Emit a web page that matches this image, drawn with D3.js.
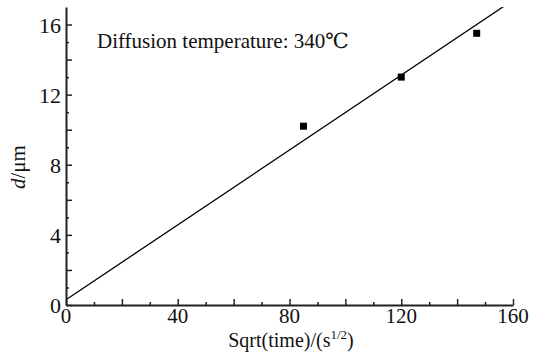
<!DOCTYPE html>
<html>
<head>
<meta charset="utf-8">
<script src="https://cdn.jsdelivr.net/npm/d3@7"></script>
<style>
  body { margin: 0; background: #fff; }
</style>
</head>
<body>
<div id="chart"></div>
<script>
const width = 533, height = 355;
const margin = {left: 66, right: 20, top: 7, bottom: 50};

// measured points
const sqrtTime = [85, 120, 147];
const depth = [10.2, 13.0, 15.5];
// fitted line ends
const fitX = [0, 160];
const fitY = [0.3, 0.3 + 0.1068 * 160];

const xTicks = [0, 40, 80, 120, 160];
const yTicks = [0, 4, 8, 12, 16];

let svg = d3.select("#chart").append("svg")
    .attr("width", width)
    .attr("height", height)
    .style("font-family", "'Liberation Serif', 'Times New Roman', Times, 'DejaVu Serif', serif");

let x = d3.scaleLinear().domain([0, 160]).range([margin.left, 513]);
let y = d3.scaleLinear().domain([0, 17]).range([305, margin.top]);

let plot = svg.append("g");

// clip so the fit line stops at the top of the frame
svg.append("clipPath").attr("id", "clip")
  .append("rect")
    .attr("x", x(0)).attr("y", y(17))
    .attr("width", x(160) - x(0)).attr("height", y(0) - y(17));

plot.append("line")
    .attr("clip-path", "url(#clip)")
    .attr("x1", x(fitX[0])).attr("y1", y(fitY[0]))
    .attr("x2", x(fitX[1])).attr("y2", y(fitY[1]))
    .attr("stroke", "#000")
    .attr("stroke-width", 1.3);

plot.selectAll("rect.pt")
  .data(sqrtTime)
  .enter().append("rect")
    .attr("class", "pt")
    .attr("x", (d) => x(d) - 3.5)
    .attr("y", (d, i) => y(depth[i]) - 3.5)
    .attr("width", 7)
    .attr("height", 7)
    .attr("fill", "#000");

// axes
let xAxis = d3.axisBottom(x)
    .tickValues(d3.range(0, 161, 10))
    .tickSize(0)
    .tickFormat("");
let gx = svg.append("g").attr("transform", `translate(0,${y(0)})`).call(xAxis);
gx.select(".domain").attr("stroke", "#222").attr("stroke-width", 2);
gx.selectAll(".tick line")
    .attr("y2", (d) => d % 20 === 0 ? -6 : -3)
    .attr("stroke", "#222").attr("stroke-width", 1.5);

let yAxis = d3.axisLeft(y)
    .tickValues(d3.range(0, 17, 1))
    .tickSize(0)
    .tickFormat("");
let gy = svg.append("g").attr("transform", `translate(${x(0)},0)`).call(yAxis);
gy.select(".domain").attr("stroke", "#222").attr("stroke-width", 2);
gy.selectAll(".tick line")
    .attr("x2", (d) => d % 2 === 0 ? 6 : 3)
    .attr("stroke", "#222").attr("stroke-width", 1.5);

// tick labels
svg.selectAll("text.xl")
  .data(xTicks)
  .enter().append("text")
    .attr("class", "xl")
    .attr("x", (d) => x(d))
    .attr("y", 323)
    .attr("text-anchor", "middle")
    .attr("font-size", 21)
    .attr("fill", "#111")
    .text((d) => d);

svg.selectAll("text.yl")
  .data(yTicks)
  .enter().append("text")
    .attr("class", "yl")
    .attr("x", 61)
    .attr("y", (d) => y(d) + 8)
    .attr("text-anchor", "end")
    .attr("font-size", 22)
    .attr("fill", "#111")
    .text((d) => d);

// axis titles
let xt = svg.append("text")
    .attr("x", 291)
    .attr("y", 347)
    .attr("text-anchor", "middle")
    .attr("font-size", 20)
    .attr("fill", "#111");
xt.append("tspan").text("Sqrt(time)/(s");
xt.append("tspan").attr("font-size", 13).attr("dy", -8).text("1/2");
xt.append("tspan").attr("dy", 8).text(")");

let yt = svg.append("text")
    .attr("transform", "translate(25,167) rotate(-90)")
    .attr("text-anchor", "middle")
    .attr("font-size", 21)
    .attr("fill", "#111");
yt.append("tspan").attr("font-style", "italic").text("d");
yt.append("tspan").text("/μm");

svg.append("text")
    .attr("x", 97)
    .attr("y", 48)
    .attr("font-size", 21)
    .attr("fill", "#111")
    .text("Diffusion temperature: 340℃");
</script>
</body>
</html>
